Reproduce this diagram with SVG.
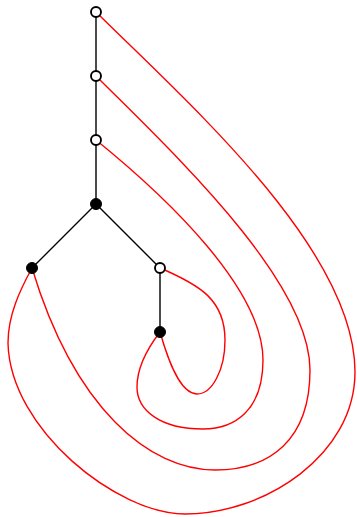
<svg xmlns="http://www.w3.org/2000/svg" width="357" height="517" viewBox="0 0 357 517">
<style>
.e{stroke:#000;stroke-width:1.4;fill:none}
.r{stroke:#f00;stroke-width:1.4;fill:none}
.o{fill:#fff;stroke:#000;stroke-width:1.9}
.f{fill:#000;stroke:#000;stroke-width:1}
</style>
<rect width="357" height="517" fill="#fff"/>
<g id="connectors">
<path class="e" d="M96,12 L96,204 M96,204 L32,268 M96,204 L160,268 M160,268 L160,332"/>
<path class="r" d="M96,12 C190,105 355,250 355,372 C355,455 265,514 185,514 C118,514 10,430 8,343 C8,315 20,290 32,268"/>
<path class="r" d="M96,76 C170,150 310,280 310,370 C310,440 270,470 215,470 C150,470 75,410 32,268"/>
<path class="r" d="M96,140 C170,200 263,290 263,360 C263,410 235,429 203,429 C160,429 137,410 137,387 C137,365 150,345 160,332"/>
<path class="r" d="M160,268 C200,285 225,300 225,340 C225,370 212,394 197,394 C180,394 168,360 160,332"/>
</g>
<g id="n1"><circle class="o" cx="96" cy="12" r="5"/></g>
<g id="n2"><circle class="o" cx="96" cy="76" r="5"/></g>
<g id="n3"><circle class="o" cx="96" cy="140" r="5"/></g>
<g id="n4"><circle class="f" cx="96" cy="204" r="5.5"/></g>
<g id="n5"><circle class="f" cx="32" cy="268" r="5.5"/></g>
<g id="n6"><circle class="o" cx="160" cy="268" r="5"/></g>
<g id="n7"><circle class="f" cx="160" cy="332" r="5.5"/></g>
</svg>
